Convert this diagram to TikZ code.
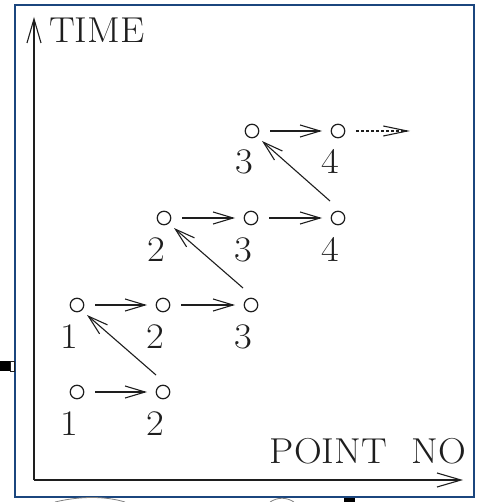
\documentclass[tikz,border=0pt]{standalone}
\usepackage{fontspec}
\setmainfont{lmroman17-regular.otf}[FakeStretch=1.07]
\usetikzlibrary{arrows.meta}
\definecolor{framblue}{HTML}{1B467E}
\definecolor{ink}{HTML}{1E1E1E}
\begin{document}
\begin{tikzpicture}[x=1pt,y=-1pt,
  pt/.style={circle,draw=ink,line width=1.2pt,minimum size=13.5pt,inner sep=0pt},
  lbl/.style={font=\fontsize{36}{40}\selectfont,text=ink,anchor=base,inner sep=0pt},
  axis/.style={draw=ink,line width=1.4pt,-{Straight Barb[length=24pt,width=14pt,line width=1.1pt]}},
  flow/.style={draw=ink,line width=1.1pt,-{Straight Barb[length=20pt,width=12pt]}},
  ahead/.style={draw=ink,line width=1.1pt,densely dashed,-{Straight Barb[length=24pt,width=10pt]}}]
\useasboundingbox (0,0) rectangle (483,502);
% outer frame
\draw[framblue,line width=2.2pt] (15,5) rectangle (474,497);
% marks outside the frame
\fill[black] (0,361) rectangle (10,371);
\draw[ink,line width=0.8pt,fill=white] (10,361) rectangle (14,371);
\fill[black] (344,498) rectangle (355,502);
\draw[gray,line width=0.8pt] (55,502) .. controls (80,496) and (105,496) .. (125,502);
\draw[gray,line width=0.8pt] (270,502) .. controls (278,497) and (286,497) .. (294,502);
% axes
\coordinate (O) at (34,480);
\coordinate (ytop) at (34,17);
\coordinate (xend) at (463,480);
\draw[axis] (O) -- (ytop);
\draw[axis] (O) -- (xend);
\node[lbl,anchor=base west] (tl) at (49,43) {TIME};
\node[lbl,anchor=base east] (pl) at (466,463) {POINT\hspace{0.68em}NO};
% points: row r (1 = bottom), column c
\foreach \c/\r/\x/\y in {1/1/77/392, 2/1/163/392,
                         1/2/77/305, 2/2/163/305, 3/2/251/305,
                         2/3/164/218, 3/3/251/218, 4/3/338/218,
                         3/4/252/131, 4/4/338/131}{
  \node[pt] (p\r\c) at (\x,\y) {};
  \node[lbl] (l\r\c) at (\x-8,\y+43) {\c};
}
% advance along each row
\foreach \r/\a/\b in {1/1/2, 2/1/2, 2/2/3, 3/2/3, 3/3/4, 4/3/4}{
  \draw[flow] ([xshift=18]p\r\a.center) -- ([xshift=-16]p\r\b.center);
}
% step back to the next row
\draw[flow] ([shift={(-7,-17)}]p12.center) -- ([shift={(10,10)}]p21.center);
\draw[flow] ([shift={(-8,-17)}]p23.center) -- ([shift={(10,10)}]p32.center);
\draw[flow] ([shift={(-8,-17)}]p34.center) -- ([shift={(10,10)}]p43.center);
% continuation
\coordinate (cont) at (410,131);
\draw[ahead] ([xshift=18]p44.center) -- (cont);
\end{tikzpicture}
\end{document}
